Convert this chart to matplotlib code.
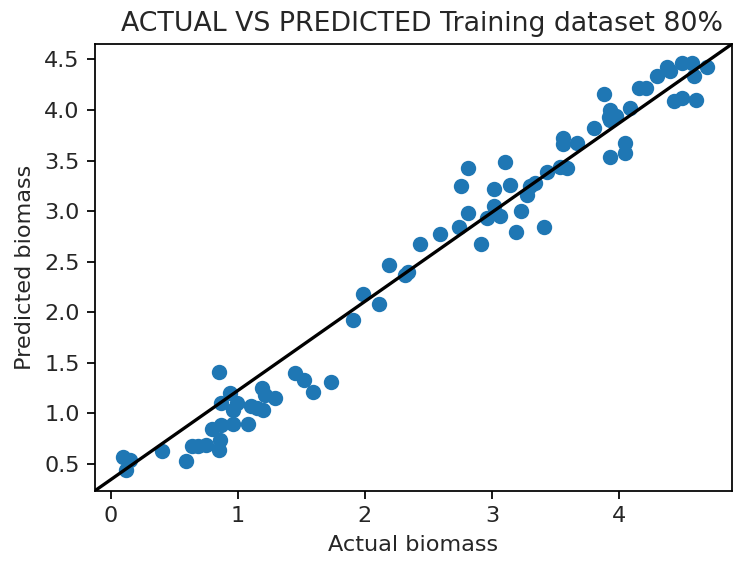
import matplotlib
matplotlib.use("Agg")
import matplotlib.pyplot as plt

actual = [0.10, 0.15, 0.12, 0.40, 0.59, 0.64, 0.69, 0.75, 0.80, 0.855, 0.87, 0.87, 0.86, 0.855,
          0.94, 0.965, 0.965, 0.99, 1.08, 1.10, 1.15, 1.19, 1.215, 1.20, 1.29, 1.45, 1.52, 1.59, 1.73,
          1.905, 1.984, 2.115, 2.19, 2.317, 2.34, 2.435, 2.59, 2.74, 2.76, 2.81, 2.81, 2.916, 2.96,
          3.02, 3.02, 3.065, 3.10, 3.14, 3.186, 3.23, 3.276, 3.30, 3.34, 3.41, 3.43, 3.54, 3.56, 3.56,
          3.59, 3.67, 3.80, 3.88, 3.93, 3.92, 3.98, 3.93, 3.926, 4.05, 4.05, 4.09, 4.155, 4.215, 4.30,
          4.38, 4.40, 4.43, 4.50, 4.50, 4.575, 4.59, 4.61, 4.69]
predicted = [0.57, 0.54, 0.44, 0.63, 0.53, 0.68, 0.68, 0.69, 0.85, 1.41, 1.10, 0.886, 0.74, 0.64,
             1.20, 1.03, 0.90, 1.10, 0.90, 1.07, 1.05, 1.25, 1.18, 1.03, 1.15, 1.40, 1.33, 1.21, 1.31,
             1.92, 2.18, 2.08, 2.47, 2.37, 2.40, 2.675, 2.777, 2.84, 3.245, 2.98, 3.43, 2.675, 2.93,
             3.22, 3.05, 2.955, 3.49, 3.26, 2.79, 3.0, 3.16, 3.245, 3.28, 2.84, 3.39, 3.44, 3.72, 3.66,
             3.43, 3.675, 3.82, 4.16, 4.0, 3.93, 3.945, 3.90, 3.54, 3.675, 3.58, 4.02, 4.22, 4.22, 4.34,
             4.43, 4.39, 4.09, 4.47, 4.12, 4.47, 4.34, 4.10, 4.43]

plt.rcParams['font.size'] = 10.2
plt.rcParams['axes.titlesize'] = 12.2
plt.rcParams['text.color'] = '#262626'
plt.rcParams['xtick.labelcolor'] = '#262626'
plt.rcParams['ytick.labelcolor'] = '#262626'
plt.rcParams['axes.labelcolor'] = '#262626'

dpi = 158
fig = plt.figure(figsize=(733 / dpi, 564 / dpi), dpi=dpi)
ax = fig.add_axes([95 / 733, 1 - 490.7 / 564, (732 - 95) / 733, (490.7 - 44) / 564])
ax.scatter(actual, predicted)
ax.plot([0, 1], [0, 1], transform=ax.transAxes, color='black')
ax.set_xlim(-0.124, 4.89)
ax.set_ylim(0.236, 4.653)
ax.set_title('ACTUAL VS PREDICTED Training dataset 80%', x=0.513)
ax.set_xlabel('Actual biomass')
ax.set_ylabel('Predicted biomass')
fig.savefig('out.png', dpi=dpi)
